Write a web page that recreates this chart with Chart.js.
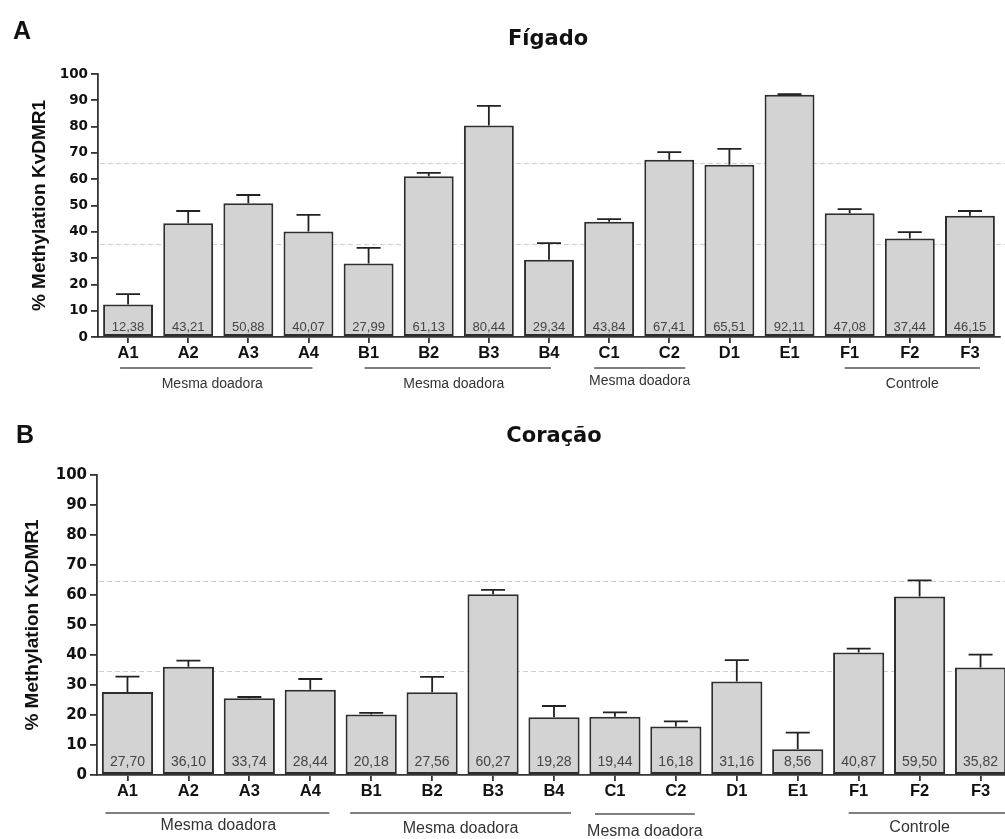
<!DOCTYPE html>
<html>
<head>
<meta charset="utf-8">
<script src="https://cdn.jsdelivr.net/npm/chart.js@4"></script>
<style>
  html, body { margin:0; padding:0; background:#fff; overflow:hidden; width:1005px; height:839px; }
  #wrapTop { position:absolute; left:0; top:0; width:1005px; height:410px; }
  #wrapBot { position:absolute; left:0; top:410px; width:1015px; height:429px; }
</style>
</head>
<body>
<div id="wrapTop"><canvas id="cTop" width="1005" height="410"></canvas></div>
<div id="wrapBot"><canvas id="cBot" width="1015" height="429"></canvas></div>
<script>
// ---------- data ----------
const categories = ['A1','A2','A3','A4','B1','B2','B3','B4','C1','C2','D1','E1','F1','F2','F3'];
const yTicks = [0,10,20,30,40,50,60,70,80,90,100];

const liverValues   = [12.38, 43.21, 50.88, 40.07, 27.99, 61.13, 80.44, 29.34, 43.84, 67.41, 65.51, 92.11, 47.08, 37.44, 46.15];
const liverErrTop   = [16.3, 47.9, 54.0, 46.4, 33.9, 62.4, 87.9, 35.7, 44.8, 70.3, 71.5, 92.3, 48.6, 39.9, 47.9];
const liverLabels   = ['12,38','43,21','50,88','40,07','27,99','61,13','80,44','29,34','43,84','67,41','65,51','92,11','47,08','37,44','46,15'];
const liverRefLines = [66.2, 35.4];

const heartValues   = [27.70, 36.10, 25.6, 28.44, 20.18, 27.56, 60.27, 19.28, 19.44, 16.18, 31.16, 8.56, 40.87, 59.50, 35.82];
const heartErrTop   = [32.8, 38.1, 26.0, 32.0, 20.7, 32.7, 61.7, 23.0, 20.9, 17.9, 38.3, 14.1, 42.1, 64.9, 40.1];
const heartLabels   = ['27,70','36,10','33,74','28,44','20,18','27,56','60,27','19,28','19,44','16,18','31,16','8,56','40,87','59,50','35,82'];
const heartRefLines = [64.6, 34.7];

const groupNames = ['Mesma doadora','Mesma doadora','Mesma doadora','Controle'];
const groupFrom  = [0, 4, 8, 12];
const groupTo    = [3, 7, 9, 14];

// ---------- helpers ----------
function makeChart(canvasId, o) {
  const plugin = {
    id: 'annot_' + canvasId,
    beforeDatasetsDraw(chart) {
      const ctx = chart.ctx, y = chart.scales.y, a = chart.chartArea;
      ctx.save();
      ctx.strokeStyle = '#cfcfcf';
      ctx.lineWidth = 1;
      ctx.setLineDash([5, 3]);
      o.refs.forEach(v => {
        const py = Math.round(y.getPixelForValue(v)) + 0.5;
        ctx.beginPath(); ctx.moveTo(a.left + 2, py); ctx.lineTo(chart.width, py); ctx.stroke();
      });
      ctx.restore();
    },
    afterDatasetsDraw(chart) {
      const ctx = chart.ctx, y = chart.scales.y;
      const meta = chart.getDatasetMeta(0);
      ctx.save();
      ctx.strokeStyle = '#222';
      ctx.lineWidth = 1.8;
      meta.data.forEach((el, i) => {
        const top = y.getPixelForValue(Math.max(o.err[i], o.values[i]));
        ctx.beginPath();
        ctx.moveTo(el.x, el.y); ctx.lineTo(el.x, top);
        ctx.moveTo(el.x - o.cap, top); ctx.lineTo(el.x + o.cap, top);
        ctx.stroke();
      });
      ctx.fillStyle = '#444';
      ctx.font = o.valFont;
      ctx.textAlign = 'center';
      ctx.textBaseline = 'alphabetic';
      const base = y.getPixelForValue(0);
      meta.data.forEach((el, i) => {
        ctx.fillText(o.labels[i], el.x, base - o.valOff);
      });
      ctx.restore();
    },
    afterDraw(chart) {
      const ctx = chart.ctx, x = chart.scales.x;
      ctx.save();
      ctx.fillStyle = '#111';
      ctx.textBaseline = 'middle';
      ctx.textAlign = 'center';
      ctx.font = 'bold 25px "Liberation Sans", Arial, sans-serif';
      ctx.fillText(o.letter, o.letterX, o.letterY);
      ctx.font = 'bold 21px "DejaVu Sans", sans-serif';
      ctx.fillText(o.title, o.titleX, o.titleY);
      ctx.strokeStyle = '#555';
      ctx.lineWidth = 1.5;
      ctx.fillStyle = '#333';
      ctx.font = o.groupFont;
      groupNames.forEach((g, k) => {
        const x0 = x.getPixelForValue(groupFrom[k]) - o.gExt[k][0];
        const x1 = x.getPixelForValue(groupTo[k]) + o.gExt[k][1];
        ctx.beginPath(); ctx.moveTo(x0, o.lineY[k]); ctx.lineTo(x1, o.lineY[k]); ctx.stroke();
        ctx.fillText(g, (x0 + x1) / 2 + o.gShift[k], o.textY[k]);
      });
      ctx.restore();
    }
  };

  return new Chart(document.getElementById(canvasId), {
    type: 'bar',
    data: {
      labels: categories,
      datasets: [{
        data: o.values,
        backgroundColor: '#d3d3d3',
        borderColor: '#2e2e2e',
        borderWidth: 2,
        borderSkipped: false,
        barPercentage: o.barPct,
        categoryPercentage: 1.0
      }]
    },
    options: {
      responsive: false,
      devicePixelRatio: 1,
      animation: false,
      layout: { padding: { left: 0, right: o.padRight, top: o.padTop, bottom: 0 } },
      plugins: { legend: { display: false }, tooltip: { enabled: false } },
      scales: {
        x: {
          grid: { display: true, drawOnChartArea: false, offset: false, tickLength: 6, color: '#333', lineWidth: 1.8 },
          border: { display: true, color: '#333', width: 1.8 },
          ticks: { color: '#111', padding: 1, font: { family: '"Liberation Sans", Arial, sans-serif', weight: 'bold', size: 16.5 }, maxRotation: 0, autoSkip: false },
          afterFit: s => { s.height = o.xHeight; }
        },
        y: {
          min: 0, max: 100,
          afterBuildTicks: s => { s.ticks = yTicks.map(v => ({ value: v })); },
          grid: { display: true, drawOnChartArea: false, tickLength: 7, color: '#333', lineWidth: 1.8 },
          border: { display: true, color: '#333', width: 1.8 },
          ticks: { color: '#111', padding: 3, font: { family: '"DejaVu Sans", sans-serif', weight: 'bold', size: o.yTickSize } },
          title: { display: true, text: '% Methylation KvDMR1', color: '#111',
                   font: { family: '"Liberation Sans", Arial, sans-serif', weight: 'bold', size: 19 },
                   padding: { top: o.yTitlePad, bottom: 0 } },
          afterFit: s => { s.width = o.yWidth; }
        }
      }
    },
    plugins: [plugin]
  });
}

makeChart('cTop', {
  values: liverValues, err: liverErrTop, labels: liverLabels, refs: liverRefLines,
  padTop: 74, padRight: 5, xHeight: 73, yWidth: 98, yTitlePad: 28, yTickSize: 13.5,
  barPct: 0.83, cap: 12, valFont: '13px "Liberation Sans", Arial, sans-serif', valOff: 6,
  letter: 'A', letterX: 22, letterY: 32, title: 'Fígado', titleX: 548, titleY: 40,
  lineY: [368, 368, 368, 368], textY: [384, 384, 381, 384], groupFont: '14px "Liberation Sans", Arial, sans-serif',
  gExt: [[8, 4], [4, 2], [15, 16], [5, 10]], gShift: [-4, -4, 0, 0]
});

makeChart('cBot', {
  values: heartValues, err: heartErrTop, labels: heartLabels, refs: heartRefLines,
  padTop: 65, padRight: 4, xHeight: 64, yWidth: 97, yTitlePad: 21, yTickSize: 15,
  barPct: 0.84, cap: 12, valFont: '14px "Liberation Sans", Arial, sans-serif', valOff: 9,
  letter: 'B', letterX: 25, letterY: 26, title: 'Coração', titleX: 554, titleY: 27,
  lineY: [403, 403, 404, 403], textY: [416, 419, 422, 418], groupFont: '16px "Liberation Sans", Arial, sans-serif',
  gExt: [[22, 19], [21, 17], [20, 19], [10, 40]], gShift: [1, 0, 0, -15]
});
</script>
</body>
</html>
